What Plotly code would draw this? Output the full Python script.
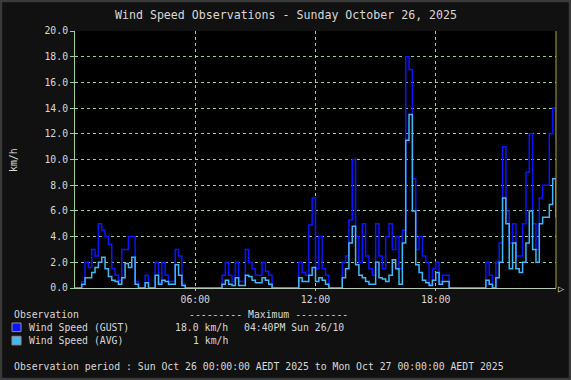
import plotly.graph_objects as go

# 10-minute readings, Sun Oct 26 2025 00:00 .. Mon 00:00 (km/h)
gust = [
    0, 0, 0.5, 2.0, 1.6, 3.0, 2.5, 5.0, 4.5, 4.0,
    3.4, 1.5, 1.0, 0.6, 3.0, 3.0, 4.0, 4.0, 0.5, 0,
    0, 1.0, 0, 0, 2.0, 0.4, 2.0, 1.0, 0.5, 0.5,
    3.0, 2.5, 0.3, 0, 0, 0, 0, 0, 0, 0,
    0, 0, 0, 0, 1.0, 2.0, 1.0, 0.5, 2.0, 0.5,
    0.5, 3.0, 2.0, 1.5, 1.0, 1.0, 2.0, 1.3, 1.0, 0,
    0, 0, 0, 0, 0, 0, 0, 2.0, 1.2, 1.0,
    4.9, 7.0, 1.5, 4.0, 1.5, 1.0, 0, 0, 0, 0,
    2.0, 2.5, 5.3, 10.0, 4.0, 2.0, 5.0, 2.5, 1.5, 1.0,
    5.0, 2.5, 1.5, 4.0, 5.0, 3.0, 4.0, 1.5, 4.5, 18.0,
    17.0, 8.5, 3.0, 4.0, 2.5, 2.0, 0.3, 1.5, 2.0, 0.5,
    1.0, 1.0, 0, 0, 0, 0, 0, 0, 0, 0,
    0, 0, 0, 2.0, 1.0, 0, 2.0, 3.5, 11.0, 6.0,
    3.5, 5.0, 2.5, 2.5, 5.0, 9.0, 12.0, 5.0, 3.0, 7.0,
    8.0, 8.0, 12.0, 14.0, 11.5,
]
avg = [
    0, 0, 0.3, 0.8, 0.8, 1.2, 1.6, 2.0, 2.4, 1.5,
    0.9, 0.6, 0.5, 0.3, 0.8, 1.9, 1.6, 2.4, 0.3, 0,
    0, 0.4, 0, 0, 1.0, 0.3, 0.6, 0.5, 0.3, 0.3,
    1.8, 1.0, 0.2, 0, 0, 0, 0, 0, 0, 0,
    0, 0, 0, 0, 0.3, 0.6, 0.3, 0.2, 0.8, 0.2,
    0.2, 1.0, 0.9, 0.6, 0.4, 0.4, 0.8, 0.6, 0.3, 0,
    0, 0, 0, 0, 0, 0, 0, 0.8, 0.5, 0.5,
    1.0, 1.6, 0.5, 0.8, 0.6, 0.3, 0, 0, 0, 0,
    0.8, 1.5, 3.5, 4.8, 1.8, 1.0, 0.8, 0.5, 0.3, 0.3,
    2.0, 0.8, 0.7, 0.5, 1.0, 2.2, 1.5, 0.3, 3.5, 11.5,
    13.5, 6.0, 1.8, 1.2, 0.6, 0.4, 0.2, 0.6, 1.2, 0.3,
    0.5, 0.5, 0, 0, 0, 0, 0, 0, 0, 0,
    0, 0, 0, 0.6, 0.3, 0, 0.8, 2.0, 7.0, 5.0,
    1.5, 3.5, 1.5, 1.2, 2.0, 3.5, 6.0, 3.0, 2.0, 5.0,
    5.5, 5.5, 6.5, 8.5, 5.5,
]
hours = [i / 6 for i in range(len(gust))]

x_tick_vals = [6, 12, 18]
x_tick_text = ["06:00", "12:00", "18:00"]
y_tick_vals = list(range(0, 21, 2))

series_names = ["Wind Speed (GUST)", "Wind Speed (AVG)"]
series_max = ["18.0 km/h", "1 km/h"]
max_time = "04:40PM Sun 26/10"
period_text = "Observation period : Sun Oct 26 00:00:00 AEDT 2025 to Mon Oct 27 00:00:00 AEDT 2025"
title_text = "Wind Speed Observations - Sunday October 26, 2025"

GUST_C = "#0a14ff"
AVG_C = "#40b8f8"
TXT = "#d8d8d8"
GRID = "#98d098"
FONT = "DejaVu Sans Mono"

W, H = 571, 380
L, R, T, B = 75, 556, 31, 288


def px(x):
    return (x - L) / (R - L)


def py(y):
    return (B - y) / (B - T)


fig = go.Figure()
fig.add_trace(go.Scatter(x=hours, y=gust, mode="lines", line=dict(color=GUST_C, width=1.5, shape="hv"),
                         name=series_names[0]))
fig.add_trace(go.Scatter(x=hours, y=avg, mode="lines", line=dict(color=AVG_C, width=1.5, shape="hv"),
                         name=series_names[1]))

fig.update_layout(
    width=W, height=H,
    margin=dict(l=L, r=W - R, t=T, b=H - B, pad=0),
    paper_bgcolor="#111111", plot_bgcolor="#000000",
    showlegend=False,
    font=dict(family=FONT, size=9.8, color=TXT),
)
fig.update_xaxes(
    range=[0, 24], tickvals=x_tick_vals, ticktext=x_tick_text,
    showgrid=True, gridcolor=GRID, griddash="dot", gridwidth=1,
    showline=True, linecolor="#b8c8b8", linewidth=1,
    ticks="outside", ticklen=2, tickcolor=GRID, zeroline=False,
    tickfont=dict(family=FONT, size=9.8, color=TXT),
)
fig.update_yaxes(
    range=[0, 20], tickvals=y_tick_vals, tickformat=".1f",
    showgrid=True, gridcolor=GRID, griddash="dot", gridwidth=1,
    showline=True, linecolor=GRID, linewidth=1,
    ticks="outside", ticklen=4, tickcolor=GRID, zeroline=False,
    tickfont=dict(family=FONT, size=9.8, color=TXT),
)

shapes = []
# right-edge marker line
shapes.append(dict(type="line", xref="paper", yref="paper", x0=1, x1=1, y0=0, y1=1,
                   line=dict(color="#a0a040", width=1)))
# outer frame
shapes.append(dict(type="rect", xref="paper", yref="paper", x0=px(1), x1=px(W - 1), y0=py(H - 1), y1=py(1),
                   line=dict(color="#3a3a3a", width=2.5), fillcolor="rgba(0,0,0,0)", layer="above"))
# legend swatches
for i, c in enumerate([GUST_C, AVG_C]):
    yc = 327.3 + i * 13.3
    shapes.append(dict(type="rect", xref="paper", yref="paper", x0=px(12), x1=px(21),
                       y0=py(yc + 4.3), y1=py(yc - 4.3), fillcolor=c, line=dict(color="#909090", width=1)))
fig.update_layout(shapes=shapes)

ann = []


def text(x, y, s, size=9.8, anchor="left", angle=0):
    ann.append(dict(x=px(x), y=py(y), xref="paper", yref="paper", text=s, showarrow=False,
                    xanchor=anchor, yanchor="middle", textangle=angle,
                    font=dict(family=FONT, size=size, color=TXT)))


text(286, 15, title_text, size=11.6, anchor="center")
text(13, 160, "km/h", anchor="center", angle=-90)
text(12, 314.5, "Observation")
text(186.5, 314.5, "--------- Maximum ---------")
for i, nm in enumerate(series_names):
    yc = 327.3 + i * 13.3
    text(26.6, yc, nm)
    text(229.5, yc, series_max[i], anchor="right")
text(241.5, 327.3, max_time)
text(12, 366.5, period_text)
text(561, 288, "▷", size=10, anchor="center")
fig.update_layout(annotations=ann)

fig.write_html("out.html", config={"displayModeBar": False},
               post_script="document.body.style.margin='0';document.body.style.overflow='hidden';")
